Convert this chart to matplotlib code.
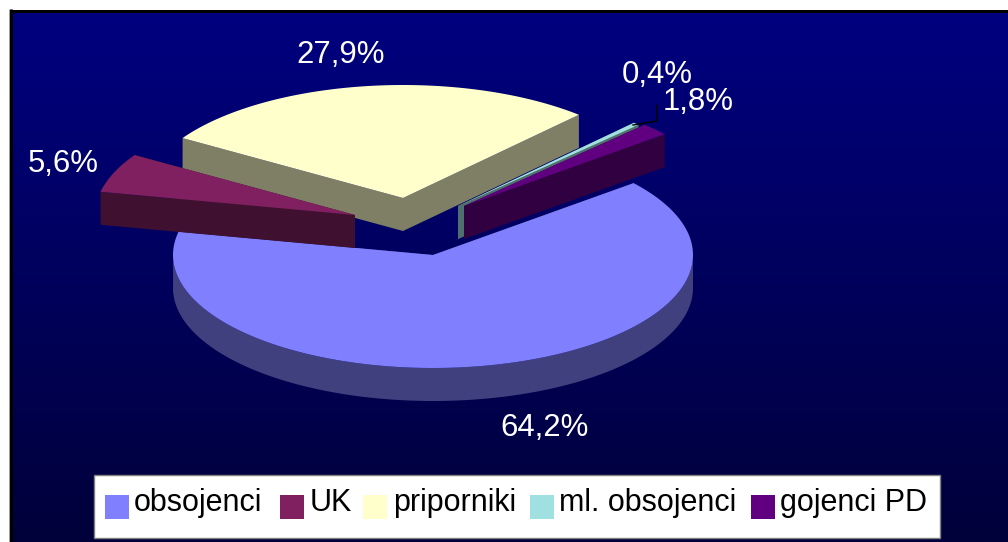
import numpy as np
import matplotlib
matplotlib.use("Agg")
import matplotlib.pyplot as plt
from matplotlib.colors import LinearSegmentedColormap
from matplotlib.patches import Polygon, Rectangle

plt.rcParams["font.family"] = ["Liberation Sans", "DejaVu Sans"]

# Data
categories = ["obsojenci", "UK", "priporniki", "ml. obsojenci", "gojenci PD"]
values = [64.2, 5.6, 27.9, 0.4, 1.8]
labels = ["64,2%", "5,6%", "27,9%", "0,4%", "1,8%"]
colors = ["#8080FF", "#802060", "#FFFFCC", "#A0E0E0", "#600080"]
wall_colors = ["#40407F", "#401030", "#7F7F66", "#507070", "#300040"]

# Pie geometry, in pixels of the 1008x542 picture
center = (433, 255)
rx, ry = 260, 113
depth = 33
start_angle = 39.5
explode = [(0, 0), (-78, -40), (-30, -57), (25, -49), (31, -49)]
label_pos = [(545, 428), (63, 164), (341, 55), (657, 75), (698, 102)]
draw_order = [0, 3, 4, 2, 1]

fig = plt.figure(figsize=(10.08, 5.42), dpi=100)
ax = fig.add_axes([0, 0, 1, 1])
ax.set_xlim(0, 1008)
ax.set_ylim(542, 0)
ax.axis("off")

# Background with the blue gradient and black frame
cmap = LinearSegmentedColormap.from_list("bg", ["#000080", "#00003A"])
ax.imshow(np.linspace(0, 1, 256)[:, None], cmap=cmap, extent=(10, 1008, 542, 10),
          aspect="auto", zorder=0)
ax.set_xlim(0, 1008)
ax.set_ylim(542, 0)
frame_lw = 3 * 72 / 100
ax.plot([10.5, 10.5], [542, 9], color="black", lw=frame_lw, solid_capstyle="butt", zorder=1)
ax.plot([9, 1008], [10.5, 10.5], color="black", lw=frame_lw, solid_capstyle="butt", zorder=1)
ax.plot([8.5, 8.5], [542, 9], color="#A0A0A0", lw=0.72, solid_capstyle="butt", zorder=1)


def point(angle, cx, cy):
    a = np.radians(angle)
    return cx + rx * np.cos(a), cy - ry * np.sin(a)


# Slice angles run clockwise from the start angle
sweeps = np.array(values) / sum(values) * 360
ends = start_angle - np.cumsum(sweeps)
starts = ends + sweeps

for z, i in enumerate(draw_order):
    cx = center[0] + explode[i][0]
    cy = center[1] + explode[i][1]
    arc = np.linspace(starts[i], ends[i], 200)
    arc_pts = np.array([point(a, cx, cy) for a in arc])
    top = np.vstack([[cx, cy], arc_pts])

    # Outer wall, only the part of the arc facing the viewer
    front = arc[np.sin(np.radians(arc)) <= 0]
    if len(front) > 1:
        pts = np.array([point(a, cx, cy) for a in front])
        wall = np.vstack([pts, (pts + [0, depth])[::-1]])
        ax.add_patch(Polygon(wall, fc=wall_colors[i], ec="none", zorder=2 + z))

    # Radial walls of the cut edges
    for a in (starts[i], ends[i]):
        px, py = point(a, cx, cy)
        ax.add_patch(Polygon([(cx, cy), (px, py), (px, py + depth), (cx, cy + depth)],
                             fc=wall_colors[i], ec="none", zorder=2 + z))
    ax.add_patch(Polygon(top, fc=colors[i], ec="none", zorder=2 + z))

# Data labels
for text, (x, y) in zip(labels, label_pos):
    ax.text(x, y, text, color="white", fontsize=22.4, ha="center", va="center", zorder=20)

# Leader line of the smallest slice
ax.plot([633, 657, 657], [125, 121, 105], color="black", lw=1, zorder=20)

# Legend
ax.add_patch(Rectangle((94, 475), 846, 63, fc="white", ec="#808080", lw=1, zorder=20))
swatch_x = [105, 280, 363, 530, 751]
text_x = [134, 310, 393, 559, 780]
for name, color, sx, tx in zip(categories, colors, swatch_x, text_x):
    ax.add_patch(Rectangle((sx, 495), 24, 24, fc=color, ec="none", zorder=21))
    ax.text(tx, 503, name, color="black", fontsize=22, ha="left", va="center", zorder=21)

fig.savefig("out.png", dpi=100)
